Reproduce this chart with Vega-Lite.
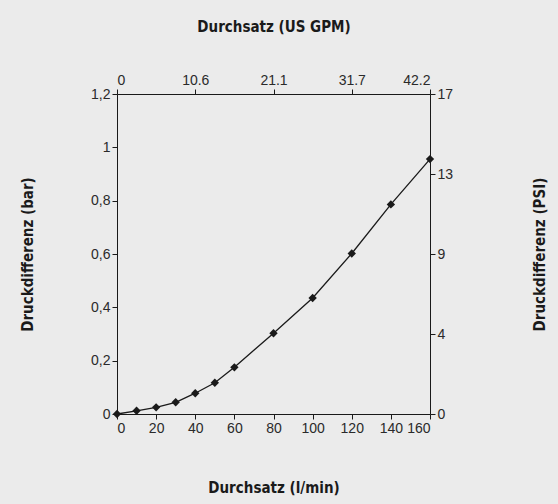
{
  "$schema": "https://vega.github.io/schema/vega-lite/v6.json",
  "width": 313,
  "height": 320,
  "autosize": "none",
  "padding": {"left": 117, "top": 94, "right": 128, "bottom": 90},
  "background": "#ebebeb",
  "config": {
    "view": {"stroke": null},
    "axis": {
      "domainColor": "#1a1a1a",
      "tickColor": "#1a1a1a",
      "grid": false,
      "labelFont": "Liberation Sans, Arial, Helvetica, sans-serif",
      "labelFontSize": 14,
      "labelColor": "#2a2a2a",
      "titleFont": "Liberation Sans Narrow, DejaVu Sans Condensed, Roboto, sans-serif",
      "titleFontSize": 15,
      "titleFontWeight": "bold",
      "titleColor": "#1a1a1a",
      "tickSize": 5
    }
  },
  "data": {
    "values": [
      {"flow": 0, "dp": 0},
      {"flow": 10, "dp": 0.012},
      {"flow": 20, "dp": 0.025},
      {"flow": 30, "dp": 0.044},
      {"flow": 40, "dp": 0.078},
      {"flow": 50, "dp": 0.117},
      {"flow": 60, "dp": 0.175},
      {"flow": 80, "dp": 0.303},
      {"flow": 100, "dp": 0.435},
      {"flow": 120, "dp": 0.602},
      {"flow": 140, "dp": 0.786},
      {"flow": 160, "dp": 0.956}
    ]
  },
  "layer": [
    {
      "encoding": {
        "x": {
          "field": "flow", "type": "quantitative",
          "scale": {"domain": [0, 160], "nice": false},
          "axis": {"orient": "bottom", "values": [0, 20, 40, 60, 80, 100, 120, 140, 160], "title": "Durchsatz (l/min)", "titlePadding": 45}
        },
        "y": {
          "field": "dp", "type": "quantitative",
          "scale": {"domain": [0, 1.2], "nice": false},
          "axis": {"orient": "left", "values": [0, 0.2, 0.4, 0.6, 0.8, 1, 1.2], "labelExpr": "replace(format(datum.value, '~g'), '.', ',')", "title": "Druckdifferenz (bar)", "titlePadding": 55}
        }
      },
      "layer": [
        {"mark": {"type": "line", "color": "#1a1a1a", "strokeWidth": 1.3}},
        {"mark": {"type": "point", "shape": "diamond", "filled": true, "color": "#1a1a1a", "size": 70, "opacity": 1}}
      ]
    },
    {
      "mark": {"type": "point", "opacity": 0},
      "encoding": {
        "x": {
          "field": "flow", "type": "quantitative",
          "scale": {"domain": [0, 160], "nice": false},
          "axis": {"orient": "top", "values": [0, 40, 80, 120, 160], "labelExpr": "['0', '10.6', '21.1', '31.7', '42.2'][round(datum.value / 40)]", "title": "Durchsatz (US GPM)", "titlePadding": 39}
        },
        "y": {
          "field": "dp", "type": "quantitative",
          "scale": {"domain": [0, 1.2], "nice": false},
          "axis": {"orient": "right", "values": [0, 0.3, 0.6, 0.9, 1.2], "labelExpr": "format(datum.value * 14.5038, '.0f')", "title": "Druckdifferenz (PSI)", "titleAngle": 270, "titlePadding": 95}
        }
      }
    }
  ],
  "resolve": {"scale": {"x": "independent", "y": "independent"}}
}
